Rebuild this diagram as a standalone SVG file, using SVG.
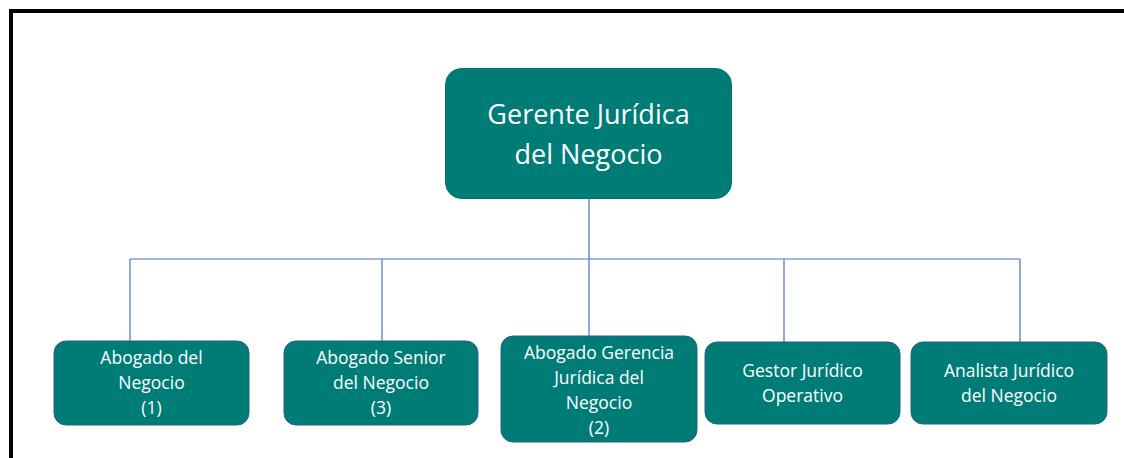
<svg xmlns="http://www.w3.org/2000/svg" width="1124" height="458" viewBox="0 0 1124 458">
<style>
.box{fill:#007C77;stroke:#2E5C8A;stroke-width:1}
.top{fill:#007C77;stroke:#0B6E6A;stroke-width:1}
.t{font-family:"Open Sans","Noto Sans",sans-serif;fill:#FFFFFF;text-anchor:middle}
.big{font-size:27px}
.sm{font-size:17.5px}
.con{stroke:#4472C4;stroke-width:1.2;fill:none}
</style>
<rect x="0" y="0" width="1124" height="458" fill="#FFFFFF"/>
<path d="M11,458 V11 H1124" fill="none" stroke="#000000" stroke-width="4"/>
<g id="connectors">
<path class="con" d="M589,198 V259 M130,259 H1020 M130,259 V341 M382,259 V341 M589,259 V336 M784,259 V342 M1020,259 V342"/>
</g>
<g id="n0">
<rect class="top" x="445.5" y="68.5" width="286" height="130" rx="16"/>
<text class="t big" x="588.5" y="124">Gerente Jurídica</text>
<text class="t big" x="588.5" y="164">del Negocio</text>
</g>
<g id="n1">
<rect class="box" x="54" y="341" width="195" height="84" rx="12"/>
<text class="t sm" x="151.5" y="364">Abogado del</text>
<text class="t sm" x="151.5" y="389">Negocio</text>
<text class="t sm" x="151.5" y="414">(1)</text>
</g>
<g id="n2">
<rect class="box" x="284" y="341" width="194" height="84" rx="12"/>
<text class="t sm" x="381" y="364">Abogado Senior</text>
<text class="t sm" x="381" y="389">del Negocio</text>
<text class="t sm" x="381" y="414">(3)</text>
</g>
<g id="n3">
<rect class="box" x="501" y="336" width="196" height="106" rx="12"/>
<text class="t sm" x="599" y="359">Abogado Gerencia</text>
<text class="t sm" x="599" y="384">Jurídica del</text>
<text class="t sm" x="599" y="409">Negocio</text>
<text class="t sm" x="599" y="434">(2)</text>
</g>
<g id="n4">
<rect class="box" x="705" y="342" width="195" height="82" rx="12"/>
<text class="t sm" x="802.5" y="377">Gestor Jurídico</text>
<text class="t sm" x="802.5" y="402">Operativo</text>
</g>
<g id="n5">
<rect class="box" x="911" y="342" width="196" height="82" rx="12"/>
<text class="t sm" x="1009" y="377">Analista Jurídico</text>
<text class="t sm" x="1009" y="402">del Negocio</text>
</g>
</svg>
